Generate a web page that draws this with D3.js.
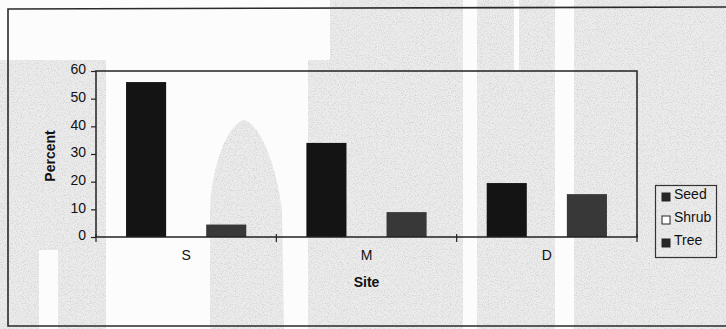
<!DOCTYPE html>
<html>
<head>
<meta charset="utf-8">
<script src="https://cdn.jsdelivr.net/npm/d3@7/dist/d3.min.js"></script>
<style>
  html, body { margin: 0; padding: 0; background: #fff; }
  svg { display: block; font-family: "Liberation Sans", Arial, sans-serif; }
</style>
</head>
<body>
<svg id="chart" width="726" height="329"></svg>
<script>
// Share of seedlings found under each cover type, by site
const sites = ["S", "M", "D"];
const seriesNames = ["Seed", "Shrub", "Tree"];
const seedValues = [56, 34, 19.5];
const shrubValues = [0, 0, 0];
const treeValues = [4.5, 9, 15.5];
const yTicks = [0, 10, 20, 30, 40, 50, 60];

const seriesValues = [seedValues, shrubValues, treeValues];
const seriesFill = ["#141414", "#ffffff", "#383838"];
const legendFill = ["#262626", "#ffffff", "#262626"];

const W = 726, H = 329;
const plot = { left: 96, top: 71, right: 637, bottom: 237 };

const svg = d3.select("#chart");

// ---- paper background with grain ----
const defs = svg.append("defs");
const grain = defs.append("filter").attr("id", "grain")
  .attr("filterUnits", "userSpaceOnUse")
  .attr("x", 0).attr("y", 0).attr("width", W).attr("height", H);
grain.append("feTurbulence").attr("type", "fractalNoise")
  .attr("baseFrequency", 0.85).attr("numOctaves", 2).attr("seed", 7).attr("result", "n");
grain.append("feColorMatrix").attr("in", "n").attr("type", "matrix")
  .attr("values", "0 0 0 0 0.35  0 0 0 0 0.35  0 0 0 0 0.35  3 0 0 0 -1.35");

const bg = svg.append("g");
bg.append("rect").attr("width", W).attr("height", H).attr("fill", "#ececec");
bg.append("rect").attr("width", W).attr("height", H)
  .attr("filter", "url(#grain)").attr("opacity", 0.3);

// lighter bands across the sheet; the arch is left as a hole (evenodd)
const rectPath = (x, y, w, h) => `M${x},${y}h${w}v${h}h${-w}Z`;
const archHole = "M210,329 L210,210 C212,160 230,122 244,120 C258,122 276,160 282,210 L284,329 Z";
bg.append("path")
  .attr("d", rectPath(106, 0, 202, 329) + archHole)
  .attr("fill-rule", "evenodd")
  .attr("fill", "#fcfcfc");
const lightBands = [
  [0, 0, 330, 60], [39, 250, 19, 79], [463, 0, 14, 329], [555, 0, 19, 329], [514, 0, 5, 70]
];
bg.selectAll("rect.band").data(lightBands).join("rect")
  .attr("class", "band")
  .attr("x", d => d[0]).attr("y", d => d[1])
  .attr("width", d => d[2]).attr("height", d => d[3])
  .attr("fill", "#fcfcfc");

// outer frame
svg.append("path")
  .attr("d", "M728,7 L8,9 L8,326 L728,326")
  .attr("fill", "none").attr("stroke", "#2a2a2a").attr("stroke-width", 1.6);

// ---- scales ----
const x0 = d3.scaleBand().domain(sites).range([plot.left, plot.right]).paddingInner(0).paddingOuter(0);
// Clustered bars: three bars and a 150% gap share each category
const barW = x0.bandwidth() / 4.5;
const x1 = d3.scaleBand().domain(seriesNames)
  .range([x0.bandwidth() / 2 - 1.5 * barW, x0.bandwidth() / 2 + 1.5 * barW]);

const y = d3.scaleLinear().domain([0, 60]).range([plot.bottom, plot.top]);

// ---- bars ----
const barData = [];
sites.forEach((s, i) => seriesNames.forEach((n, si) => {
  barData.push({ site: s, series: n, si, value: seriesValues[si][i] });
}));
svg.append("g").selectAll("rect").data(barData.filter(d => d.value > 0)).join("rect")
  .attr("x", d => x0(d.site) + x1(d.series))
  .attr("y", d => y(d.value))
  .attr("width", x1.bandwidth())
  .attr("height", d => y(0) - y(d.value))
  .attr("fill", d => seriesFill[d.si]);

// ---- plot frame ----
svg.append("rect")
  .attr("x", plot.left).attr("y", plot.top)
  .attr("width", plot.right - plot.left).attr("height", plot.bottom - plot.top)
  .attr("fill", "none").attr("stroke", "#222").attr("stroke-width", 1.5);

// ---- y axis ----
const yAxis = svg.append("g")
  .attr("transform", `translate(${plot.left},0)`)
  .call(d3.axisLeft(y).tickValues(yTicks).tickSize(5).tickPadding(5).tickFormat(d3.format("d")));
yAxis.select(".domain").remove();
yAxis.selectAll("line").attr("stroke", "#222").attr("stroke-width", 1.2);
yAxis.selectAll("text").attr("font-size", 14).attr("fill", "#111")
  .attr("font-family", "'Liberation Sans', Arial, sans-serif").attr("dy", "0.2em");

// ---- x axis: category divider ticks and labels ----
const xAxis = svg.append("g")
  .attr("transform", `translate(0,${plot.bottom})`);
const boundaries = sites.map(s => x0(s)).concat([plot.right]);
xAxis.selectAll("line").data(boundaries).join("line")
  .attr("x1", d => d).attr("x2", d => d)
  .attr("y1", -3).attr("y2", 5)
  .attr("stroke", "#222").attr("stroke-width", 1.2);
xAxis.selectAll("text").data(sites).join("text")
  .attr("x", d => x0(d) + x0.bandwidth() / 2)
  .attr("y", 23)
  .attr("text-anchor", "middle")
  .attr("font-size", 14).attr("fill", "#111")
  .text(d => d);

// ---- axis titles ----
svg.append("text")
  .attr("transform", `translate(55,${(plot.top + plot.bottom) / 2 + 2}) rotate(-90)`)
  .attr("text-anchor", "middle")
  .attr("font-size", 14).attr("font-weight", "bold").attr("fill", "#111")
  .text("Percent");
svg.append("text")
  .attr("x", (plot.left + plot.right) / 2)
  .attr("y", 287)
  .attr("text-anchor", "middle")
  .attr("font-size", 14).attr("font-weight", "bold").attr("fill", "#111")
  .text("Site");

// ---- legend ----
const legend = svg.append("g");
legend.append("rect")
  .attr("x", 655.5).attr("y", 185.5).attr("width", 61).attr("height", 72)
  .attr("fill", "none").attr("stroke", "#333").attr("stroke-width", 1.2);
const items = legend.selectAll("g.item").data(seriesNames).join("g")
  .attr("class", "item")
  .attr("transform", (d, i) => `translate(662,${196 + i * 23})`);
items.append("rect")
  .attr("x", 0).attr("y", -3).attr("width", 8).attr("height", 8)
  .attr("fill", (d, i) => legendFill[i]).attr("stroke", "#222").attr("stroke-width", 1);
items.append("text")
  .attr("x", 12).attr("y", 0).attr("dy", "0.2em")
  .attr("font-size", 14).attr("fill", "#111")
  .text(d => d);
</script>
</body>
</html>
